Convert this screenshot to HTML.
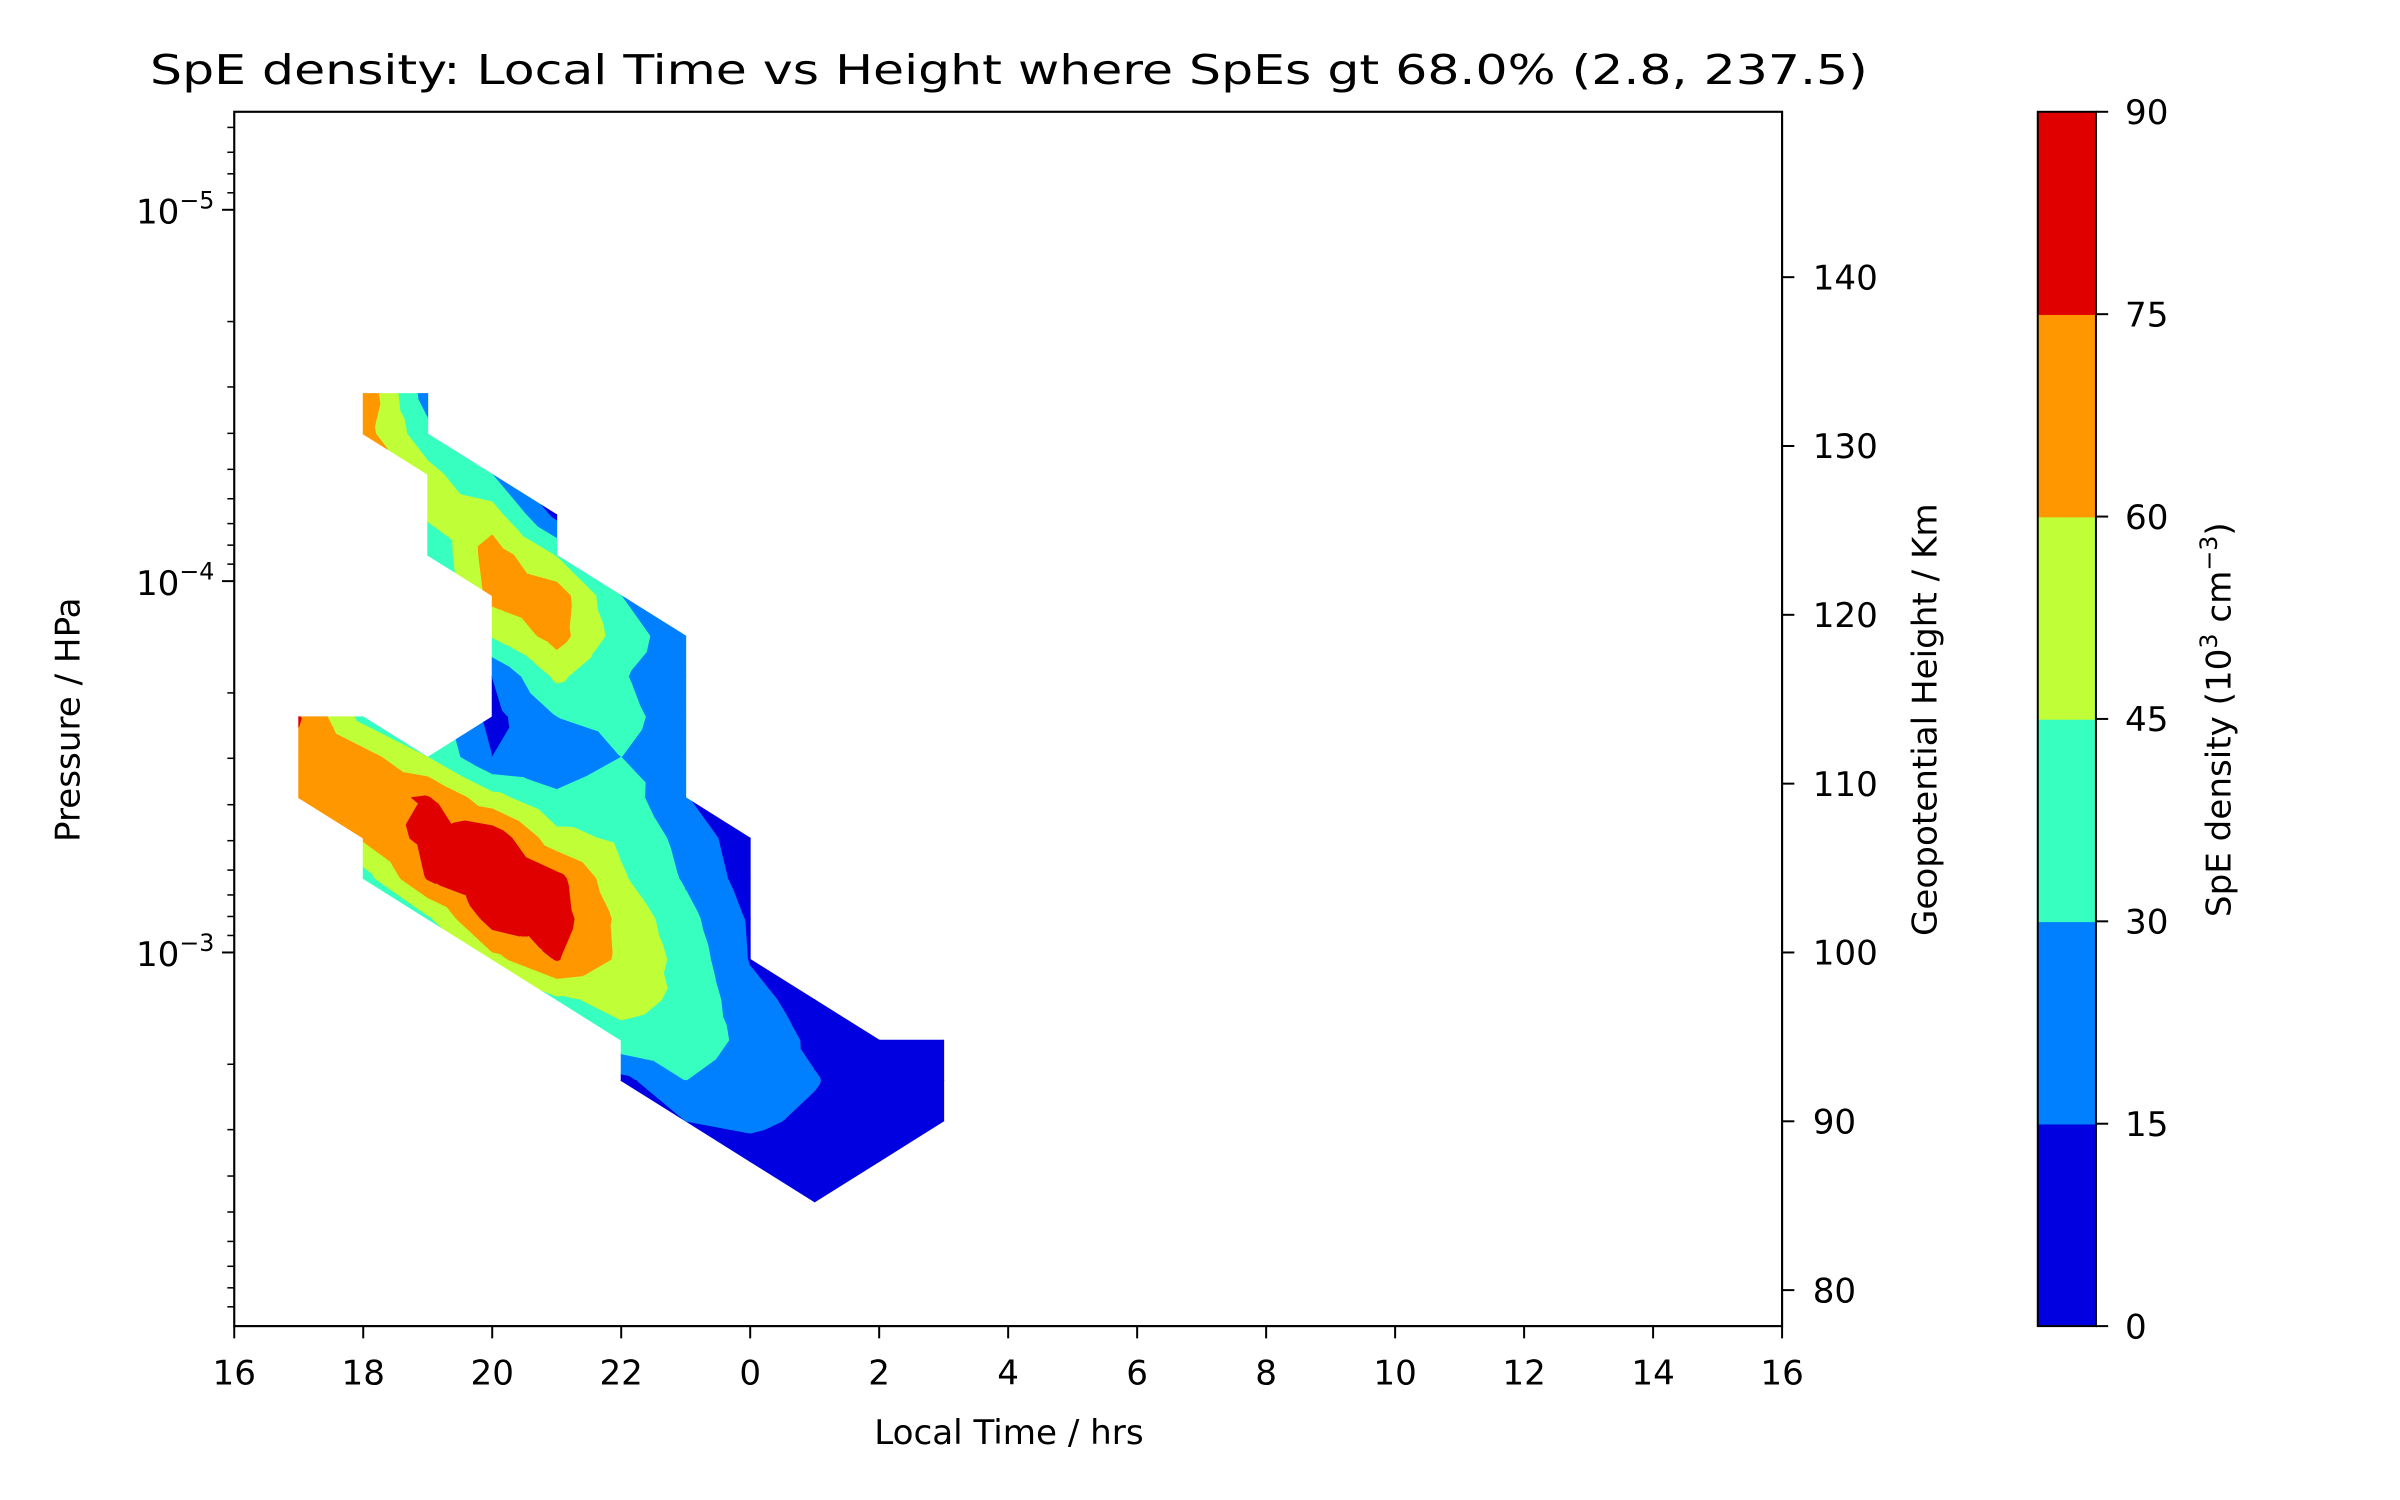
<!DOCTYPE html>
<html><head><meta charset="utf-8"><style>
html,body{margin:0;padding:0;background:#fff;}
svg{display:block;font-family:"DejaVu Sans","Liberation Sans",sans-serif;}
</style></head><body>
<svg id="chart" xmlns="http://www.w3.org/2000/svg" width="2400" height="1500" viewBox="0 0 2400 1500">
<g id="root" transform="scale(1.5310,1.5313)">
<text x="659" y="55" font-size="26.5" text-anchor="middle" textLength="1122" lengthAdjust="spacingAndGlyphs">SpE density: Local Time vs Height where SpEs gt 68.0%  (2.8, 237.5)</text>
<g id="contours"></g>
<rect x="153" y="73" width="1011" height="793" fill="none" stroke="#000" stroke-width="1.4"/>
<g id="xaxis"></g>
<g id="yaxis"></g>
<g id="y2axis"></g>
<text x="659" y="943" font-size="22.3" text-anchor="middle">Local Time / hrs</text>
<text transform="translate(52,470) rotate(-90)" font-size="22.3" text-anchor="middle">Pressure / HPa</text>
<text transform="translate(1265,470) rotate(-90)" font-size="22.3" text-anchor="middle">Geopotential Height / Km</text>
<g id="cbar"></g>
<text transform="translate(1457,470) rotate(-90)" font-size="22.3" text-anchor="middle">SpE density (10<tspan font-size="15.5" dy="-9">3</tspan><tspan dy="9"> cm</tspan><tspan font-size="15.5" dy="-9">−3</tspan><tspan dy="9">)</tspan></text>
</g>
</svg>
<script>
// ---- data ----
var hours = [17,18,19,20,21,22,23,24,25,26,27];
var pressures = [3.125e-5,4.015e-5,5.158e-5,6.627e-5,8.515e-5,1.094e-4,1.4055e-4,1.806e-4,2.320e-4,2.981e-4,3.830e-4,4.921e-4,6.322e-4,8.123e-4,1.0436e-3,1.3409e-3,1.7228e-3,2.2134e-3,2.8438e-3,3.6537e-3,4.6943e-3];
var N = null;
var density = [
 [N,72,22,N,N,N,N,N,N,N,N],
 [N,66,35,N,N,N,N,N,N,N,N],
 [N,N,50,30,N,N,N,N,N,N,N],
 [N,N,48,52,10,N,N,N,N,N,N],
 [N,N,30,68,44,N,N,N,N,N,N],
 [N,N,N,65,68,30,N,N,N,N,N],
 [N,N,N,46,66,38,20,N,N,N,N],
 [N,N,N,15,48,31,22,N,N,N,N],
 [76,40,N,10,30,33,25,N,N,N,N],
 [72,66,45,15,22,30,25,N,N,N,N],
 [68,72,76,50,32,38,16,N,N,N,N],
 [N,62,80,86,50,42,25,5,N,N,N],
 [N,38,76,88,80,47,28,8,N,N,N],
 [N,N,42,82,82,56,35,13,N,N,N],
 [N,N,N,55,76,57,40,14,N,N,N],
 [N,N,N,N,42,50,42,20,8,N,N],
 [N,N,N,N,N,40,40,25,12,5,3],
 [N,N,N,N,N,10,30,22,16,5,3],
 [N,N,N,N,N,N,15,18,12,5,3],
 [N,N,N,N,N,N,N,8,6,4,N],
 [N,N,N,N,N,N,N,N,3,N,N]
];
var levels = [0,15,30,45,60,75,90];
var bandColors = ["#0000e0","#0080ff","#37ffbf","#c0ff37","#ff9700","#e00000"];
var xTickVals = [16,18,20,22,24,26,28,30,32,34,36,38,40];
var xTickLabels = ["16","18","20","22","0","2","4","6","8","10","12","14","16"];
var pTickExps = [-5,-4,-3];
var hTicks = [80,90,100,110,120,130,140];

// ---- scales ----
var NS="http://www.w3.org/2000/svg";
function X(h){return 153+(h-16)*1011/24;}
function Y(p){return 137+(Math.log10(p)+5)*242.5;}
function YH(h){return 622-(h-100)*11.025;}
function CB(v){return 866-(v-0)*793/90;}
function mk(tag,attrs,parent){var e=document.createElementNS(NS,tag);for(var k in attrs)e.setAttribute(k,attrs[k]);parent.appendChild(e);return e;}

// ---- filled contours via triangle clipping ----
function clipPoly(poly,lev,above){
  var out=[];
  for(var i=0;i<poly.length;i++){
    var a=poly[i],b=poly[(i+1)%poly.length];
    var ina=above?a.v>=lev:a.v<=lev, inb=above?b.v>=lev:b.v<=lev;
    if(ina)out.push(a);
    if(ina!==inb){var t=(lev-a.v)/(b.v-a.v);out.push({x:a.x+t*(b.x-a.x),y:a.y+t*(b.y-a.y),v:lev});}
  }
  return out;
}
var cg=document.getElementById('contours');
function drawTri(tri){
  for(var b=0;b<bandColors.length;b++){
    var p=clipPoly(tri,levels[b],true);
    if(p.length<3)continue;
    p=clipPoly(p,levels[b+1],false);
    if(p.length<3)continue;
    var d=p.map(function(q,i){return (i?'L':'M')+q.x.toFixed(2)+' '+q.y.toFixed(2);}).join('')+'Z';
    var el=mk('path',{d:d,fill:bandColors[b],stroke:bandColors[b],'stroke-width':'0.6','stroke-linejoin':'round'},cg);
    
    
  }
}
function node(k,c){var v=density[k][c];return v===null?null:{x:X(hours[c]),y:Y(pressures[k]),v:v};}
for(var k=0;k<pressures.length-1;k++){
  for(var c=0;c<hours.length-1;c++){
    var A=node(k,c),B=node(k,c+1),C=node(k+1,c+1),D=node(k+1,c);
    var pts=[A,B,C,D].filter(function(q){return q!==null;});
    if(pts.length===4){
      var M={x:(A.x+B.x+C.x+D.x)/4,y:(A.y+B.y+C.y+D.y)/4,v:(A.v+B.v+C.v+D.v)/4};
      drawTri([A,B,M]);drawTri([B,C,M]);drawTri([C,D,M]);drawTri([D,A,M]);
    } else if(pts.length===3){drawTri(pts);}
  }
}

// ---- x axis ----
var xg=document.getElementById('xaxis');
xTickVals.forEach(function(v,i){
  var x=X(v);
  var t=mk('line',{x1:x,x2:x,y1:866,y2:874,stroke:'#000','stroke-width':'1.3'},xg);
  
  
  var l=mk('text',{x:x,y:904,'font-size':'22.3','text-anchor':'middle'},xg);
  l.textContent=xTickLabels[i];
  
  
});

// ---- left pressure axis ----
var yg=document.getElementById('yaxis');
pTickExps.forEach(function(e){
  var y=Y(Math.pow(10,e));
  var t=mk('line',{x1:145,x2:153,y1:y,y2:y,stroke:'#000','stroke-width':'1.3'},yg);
  
  
  var l=mk('text',{x:140,y:y+9,'font-size':'22.3','text-anchor':'end'},yg);
  
  
  l.innerHTML='10<tspan font-size="15.5" dy="-10">−'+(-e)+'</tspan>';
});
for(var e=-6;e<=-2;e++){
  for(var m=2;m<=9;m++){
    var y=Y(m*Math.pow(10,e));
    if(y<73||y>866)continue;
    var t=mk('line',{x1:148.5,x2:153,y1:y,y2:y,stroke:'#000','stroke-width':'1'},yg);
    
    
  }
}

// ---- right height axis ----
var y2=document.getElementById('y2axis');
hTicks.forEach(function(h){
  var y=YH(h);
  var t=mk('line',{x1:1164,x2:1172,y1:y,y2:y,stroke:'#000','stroke-width':'1.3'},y2);
  
  
  var l=mk('text',{x:1184,y:y+8,'font-size':'22.3'},y2);
  l.textContent=String(h);
  
  
});

// ---- colorbar ----
var cb=document.getElementById('cbar');
for(var b=0;b<bandColors.length;b++){
  var r=mk('rect',{x:1331,y:CB(levels[b+1]),width:38,height:CB(levels[b])-CB(levels[b+1])+0.5,fill:bandColors[b]},cb);
  
  
}
var fr=mk('rect',{x:1331,y:73,width:38,height:793,fill:'none',stroke:'#000','stroke-width':'1.3'},cb);


levels.forEach(function(v){
  var y=CB(v);
  var t=mk('line',{x1:1369,x2:1377,y1:y,y2:y,stroke:'#000','stroke-width':'1.3'},cb);
  
  
  var l=mk('text',{x:1388,y:y+8,'font-size':'22.3'},cb);
  l.textContent=String(v);
  
  
});
</script>
</body></html>
